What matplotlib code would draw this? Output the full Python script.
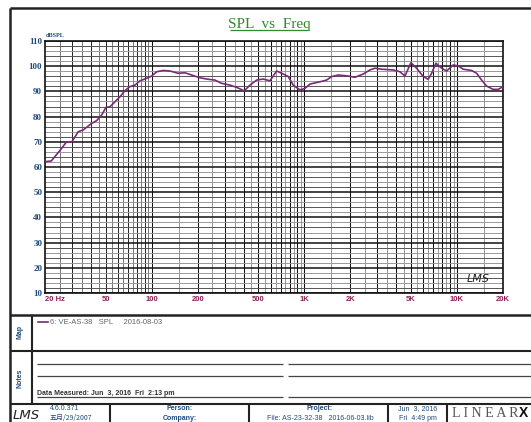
import numpy as np
import matplotlib
matplotlib.use('Agg')
import matplotlib.pyplot as plt

# SPL response (Hz, dB SPL)
freq = [20, 22, 25, 27.7, 30, 33, 35.6, 40.4, 43.6, 47, 50.2, 53.3, 57.5, 62,
        66.8, 72, 77.7, 83.8, 92.7, 100, 107.8, 119, 131.7, 149, 165, 182.7,
        207, 234.7, 259.6, 287, 325.5, 360, 404, 440, 487, 538, 595, 658, 727,
        784, 845, 935, 1009, 1087, 1264, 1399, 1509, 1667, 1937, 2144, 2430,
        2688, 2898, 3206, 3820, 4226, 4558, 4988, 5436, 6004, 6474, 6814, 7272,
        7925, 8546, 9442, 10176, 10976, 12458, 13430, 14482, 15618, 17254,
        18606, 20000]
spl = [62.1, 62.4, 66.5, 70.0, 70.0, 74.0, 74.7, 77.3, 78.4, 80.6, 83.7, 83.9,
       85.9, 87.9, 90.3, 91.9, 92.5, 94.2, 95.2, 96.1, 97.8, 98.3, 98.1, 97.2,
       97.4, 96.5, 95.4, 94.8, 94.5, 93.2, 92.5, 91.6, 90.2, 92.5, 94.5, 94.9,
       94.2, 98.1, 96.9, 95.9, 92.5, 90.6, 91.2, 92.9, 93.8, 94.5, 95.9, 96.5,
       96.1, 95.6, 96.9, 98.5, 99.2, 98.8, 98.5, 97.8, 96.1, 101.4, 99.2, 95.9,
       94.8, 97.2, 101.2, 99.2, 98.1, 100.5, 100.1, 98.8, 98.3, 97.2, 94.5,
       92.1, 90.8, 90.8, 91.9]

xticks = [20, 50, 100, 200, 500, 1000, 2000, 5000, 10000, 20000]
xlabels = ['20 Hz', '50', '100', '200', '500', '1K', '2K', '5K', '10K', '20K']
yticks = list(range(10, 111, 10))

W, H = 531, 422
NAVY = '#1f4a7a'
MAROON = '#8b1f55'
CURVE = '#7a2a78'

fig = plt.figure(figsize=(W / 100, H / 100), dpi=100)
fig.patch.set_facecolor('white')

# page furniture in pixel coordinates
pg = fig.add_axes([0, 0, 1, 1], zorder=0)
pg.set_xlim(0, W)
pg.set_ylim(H, 0)
pg.axis('off')

def hline(y, x0, x1, lw=1.2, c='#222222'):
    pg.plot([x0, x1], [y, y], color=c, lw=lw, solid_capstyle='butt')

def vline(x, y0, y1, lw=1.2, c='#222222'):
    pg.plot([x, x], [y0, y1], color=c, lw=lw, solid_capstyle='butt')

hline(8, 10, W, lw=1.8)
vline(10, 8, H, lw=1.8)
hline(315, 10, W, lw=1.8)
hline(350.5, 10, W, lw=1.5)
hline(404, 10, W, lw=1.5)
vline(32, 315, 404, lw=1.5)
for xv in [110, 249, 388, 447]:
    vline(xv, 404, H, lw=1.5)

# notes lines
for yv in [364, 376, 397]:
    hline(yv, 37, 283, lw=0.9, c='#444444')
    hline(yv, 288, W, lw=0.9, c='#444444')

pg.text(20, 332, 'Map', rotation=90, ha='center', va='center',
        fontsize=5, weight='bold', color=NAVY, family='Liberation Sans')
pg.text(20, 378, 'Notes', rotation=90, ha='center', va='center',
        fontsize=5, weight='bold', color=NAVY, family='Liberation Sans')

pg.plot([38, 48], [322, 322], color=CURVE, lw=1.2)
pg.text(50, 322, '6: VE-AS-38   SPL     2016-08-03', ha='left', va='center',
        fontsize=5.5, color='#666666', family='Liberation Sans')

pg.text(37, 395, 'Data Measured: Jun  3, 2016  Fri  2:13 pm', ha='left',
        va='baseline', fontsize=5, weight='bold', color='#333333',
        family='Liberation Sans')

# title block
pg.text(13, 419, 'LMS', ha='left', va='baseline', fontsize=9.5,
        style='italic', color='#222222', family='DejaVu Sans')
pg.text(50, 410, '4.6.0.371', ha='left', va='baseline', fontsize=5,
        color=NAVY, family='Liberation Sans')
pg.text(50, 420, '五月/29/2007', ha='left', va='baseline', fontsize=5,
        color=NAVY, family=['Noto Sans CJK SC', 'DejaVu Sans'])
pg.text(180, 410, 'Person:', ha='center', va='baseline', fontsize=5,
        weight='bold', color=NAVY, family='Liberation Sans')
pg.text(180, 420, 'Company:', ha='center', va='baseline', fontsize=5,
        weight='bold', color=NAVY, family='Liberation Sans')
pg.text(320, 410, 'Project:', ha='center', va='baseline', fontsize=5,
        weight='bold', color=NAVY, family='Liberation Sans')
pg.text(320, 420, 'File: AS-23-32-38   2016-06-03.lib', ha='center',
        va='baseline', fontsize=5, color=NAVY, family='Liberation Sans')
pg.text(418, 410, 'Jun  3, 2016', ha='center', va='baseline', fontsize=5,
        color=NAVY, family='Liberation Sans')
pg.text(418, 420, 'Fri  4:49 pm', ha='center', va='baseline', fontsize=5,
        color=NAVY, family='Liberation Sans')
pg.text(452, 417, 'L I N E A R', ha='left', va='baseline', fontsize=10,
        color='#555555', family='Liberation Serif')
pg.text(519, 417, 'X', ha='left', va='baseline', fontsize=10,
        weight='bold', color='#111111', family='Liberation Sans')

# chart title
pg.text(269, 28, 'SPL  vs  Freq', ha='center', va='baseline', fontsize=11,
        color='#2e8b2e', family='Liberation Serif')
hline(30, 230, 308, lw=0.9, c='#2e8b2e')
pg.text(46, 37, 'dBSPL', ha='left', va='baseline', fontsize=4.5,
        weight='bold', color=NAVY, family='Liberation Serif')

# plot area
ax = fig.add_axes([45 / W, 1 - 293 / H, 458 / W, 252 / H], zorder=1)
ax.set_xscale('log')
ax.set_xlim(20, 20000)
ax.set_ylim(10, 110)

# vertical grid: 5 Hz steps below 100 Hz, half-steps per decade above
for f in np.arange(25, 100, 5):
    ax.axvline(f, color='#222222' if f % 10 == 0 else '#777777', lw=0.7, zorder=1)
for dec in [100, 1000, 10000]:
    for m in np.arange(1, 10.01, 0.5):
        f = dec * m
        if f > 20000:
            continue
        dark = (m % 1 == 0)
        ax.axvline(f, color='#111111' if dark else '#999999', lw=0.75, zorder=1)
# horizontal grid
for v in range(10, 111, 2):
    if v % 10 == 0:
        ax.axhline(v, color='#111111', lw=1.1, zorder=1)
    else:
        ax.axhline(v, color='#555555' if v % 4 == 0 else '#999999', lw=0.7, zorder=1)

ax.plot(freq, spl, color=CURVE, lw=1.2, zorder=3)

ax.set_yticks(yticks)
ax.set_yticklabels([str(v) for v in yticks], fontsize=6.5, weight='bold',
                   color=NAVY, family='Liberation Serif')
ax.set_xticks(xticks)
ax.set_xticklabels(xlabels, fontsize=5.5, weight='bold', color=MAROON,
                   family='Liberation Sans')
ax.minorticks_off()
ax.tick_params(length=0, pad=2)
ax.get_xticklabels()[0].set_horizontalalignment('left')
for s in ax.spines.values():
    s.set_color('#111111')
    s.set_linewidth(1.2)

ax.text(0.945, 0.035, 'LMS', transform=ax.transAxes, ha='center',
        va='bottom', fontsize=8, style='italic', color='#222222',
        family='DejaVu Sans')

fig.savefig('out.png', dpi=100)
